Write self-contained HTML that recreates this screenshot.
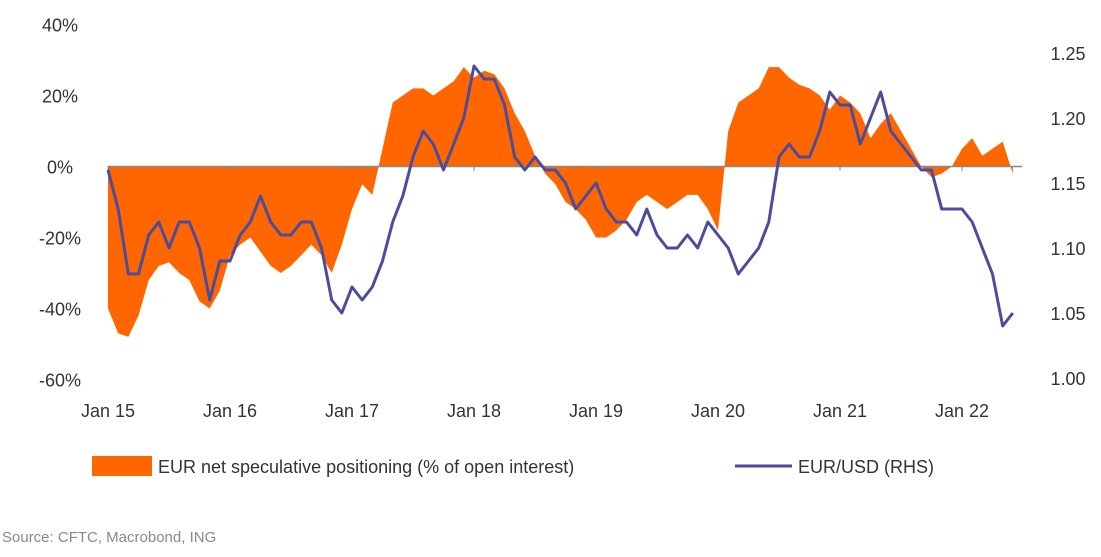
<!DOCTYPE html>
<html><head><meta charset="utf-8"><style>
body{margin:0;background:#fff;font-family:"Liberation Sans",sans-serif;}
svg text{font-family:"Liberation Sans",sans-serif;}
</style></head><body>
<svg width="1101" height="552">
<g id="fillg"></g>
<line x1="108" x2="1022" y1="166.5" y2="166.5" stroke="#888" stroke-width="1.5"/>
<g id="ticks"></g>
<g id="lineg"></g>
<g id="labels" font-size="18" fill="#333"></g>
<rect x="92" y="456" width="60" height="20" fill="#ff6600"/>
<text x="158" y="473" font-size="18" fill="#333">EUR net speculative positioning (% of open interest)</text>
<line x1="735" x2="792" y1="466" y2="466" stroke="#4c4c9d" stroke-width="3"/>
<text x="798" y="473" font-size="18" fill="#333">EUR/USD (RHS)</text>
<text x="2" y="542" font-size="15" fill="#888">Source: CFTC, Macrobond, ING</text>
</svg>
<script>
const positioning=[-40,-47,-48,-42,-32,-28,-27,-30,-32,-38,-40,-35,
-25,-22,-20,-24,-28,-30,-28,-25,-22,-25,-30,-22,
-12,-5,-8,5,18,20,22,22,20,22,24,28,
25,27,26,22,15,10,3,-2,-5,-10,-12,-15,
-20,-20,-18,-15,-10,-8,-10,-12,-10,-8,-8,-12,
-18,10,18,20,22,28,28,25,23,22,20,16,
20,18,15,8,12,15,10,5,0,-3,-2,0,
5,8,3,5,7,-2];
const eurusd=[1.16,1.13,1.08,1.08,1.11,1.12,1.10,1.12,1.12,1.10,1.06,1.09,
1.09,1.11,1.12,1.14,1.12,1.11,1.11,1.12,1.12,1.10,1.06,1.05,
1.07,1.06,1.07,1.09,1.12,1.14,1.17,1.19,1.18,1.16,1.18,1.20,
1.24,1.23,1.23,1.21,1.17,1.16,1.17,1.16,1.16,1.15,1.13,1.14,
1.15,1.13,1.12,1.12,1.11,1.13,1.11,1.10,1.10,1.11,1.10,1.12,
1.11,1.10,1.08,1.09,1.10,1.12,1.17,1.18,1.17,1.17,1.19,1.22,
1.21,1.21,1.18,1.20,1.22,1.19,1.18,1.17,1.16,1.16,1.13,1.13,
1.13,1.12,1.10,1.08,1.04,1.05];
const yearLabels=["Jan 15","Jan 16","Jan 17","Jan 18","Jan 19","Jan 20","Jan 21","Jan 22"];
const leftTicks=[40,20,0,-20,-40,-60];
const rightTicks=[1.25,1.20,1.15,1.10,1.05,1.00];
const NS="http://www.w3.org/2000/svg";
const xs=i=>108+i*(122/12);
const yl=v=>166.5-v*71/20;
const yr=v=>183-(v-1.15)*1300;
function mk(t,a,p){const e=document.createElementNS(NS,t);for(const k in a)e.setAttribute(k,a[k]);p.appendChild(e);return e;}
let d="M"+xs(0)+","+yl(0);
positioning.forEach((v,i)=>{d+=" L"+xs(i).toFixed(1)+","+yl(v).toFixed(1);});
d+=" L"+xs(positioning.length-1)+","+yl(0)+"Z";
const area=mk("path",{d:d,fill:"#ff6600"},document.getElementById("fillg"));


const pts=eurusd.map((v,i)=>xs(i).toFixed(1)+","+yr(v).toFixed(1)).join(" ");
const ln=mk("polyline",{points:pts,fill:"none",stroke:"#4c4c9d","stroke-width":3,"stroke-linejoin":"round"},document.getElementById("lineg"));


const lab=document.getElementById("labels"),tk=document.getElementById("ticks");
yearLabels.forEach((s,i)=>{const x=108+i*122;
const t=mk("text",{x:x,y:417,"text-anchor":"middle"},lab);t.textContent=s;


const m=mk("line",{x1:x,x2:x,y1:166,y2:171,stroke:"#888"},tk);

});
leftTicks.forEach(v=>{const t=mk("text",{x:60,y:yl(v)+7,"text-anchor":"middle"},lab);t.textContent=v+"%";

});
rightTicks.forEach(v=>{const t=mk("text",{x:1068,y:yr(v)+7,"text-anchor":"middle"},lab);t.textContent=v.toFixed(2);

});
</script>
</body></html>
